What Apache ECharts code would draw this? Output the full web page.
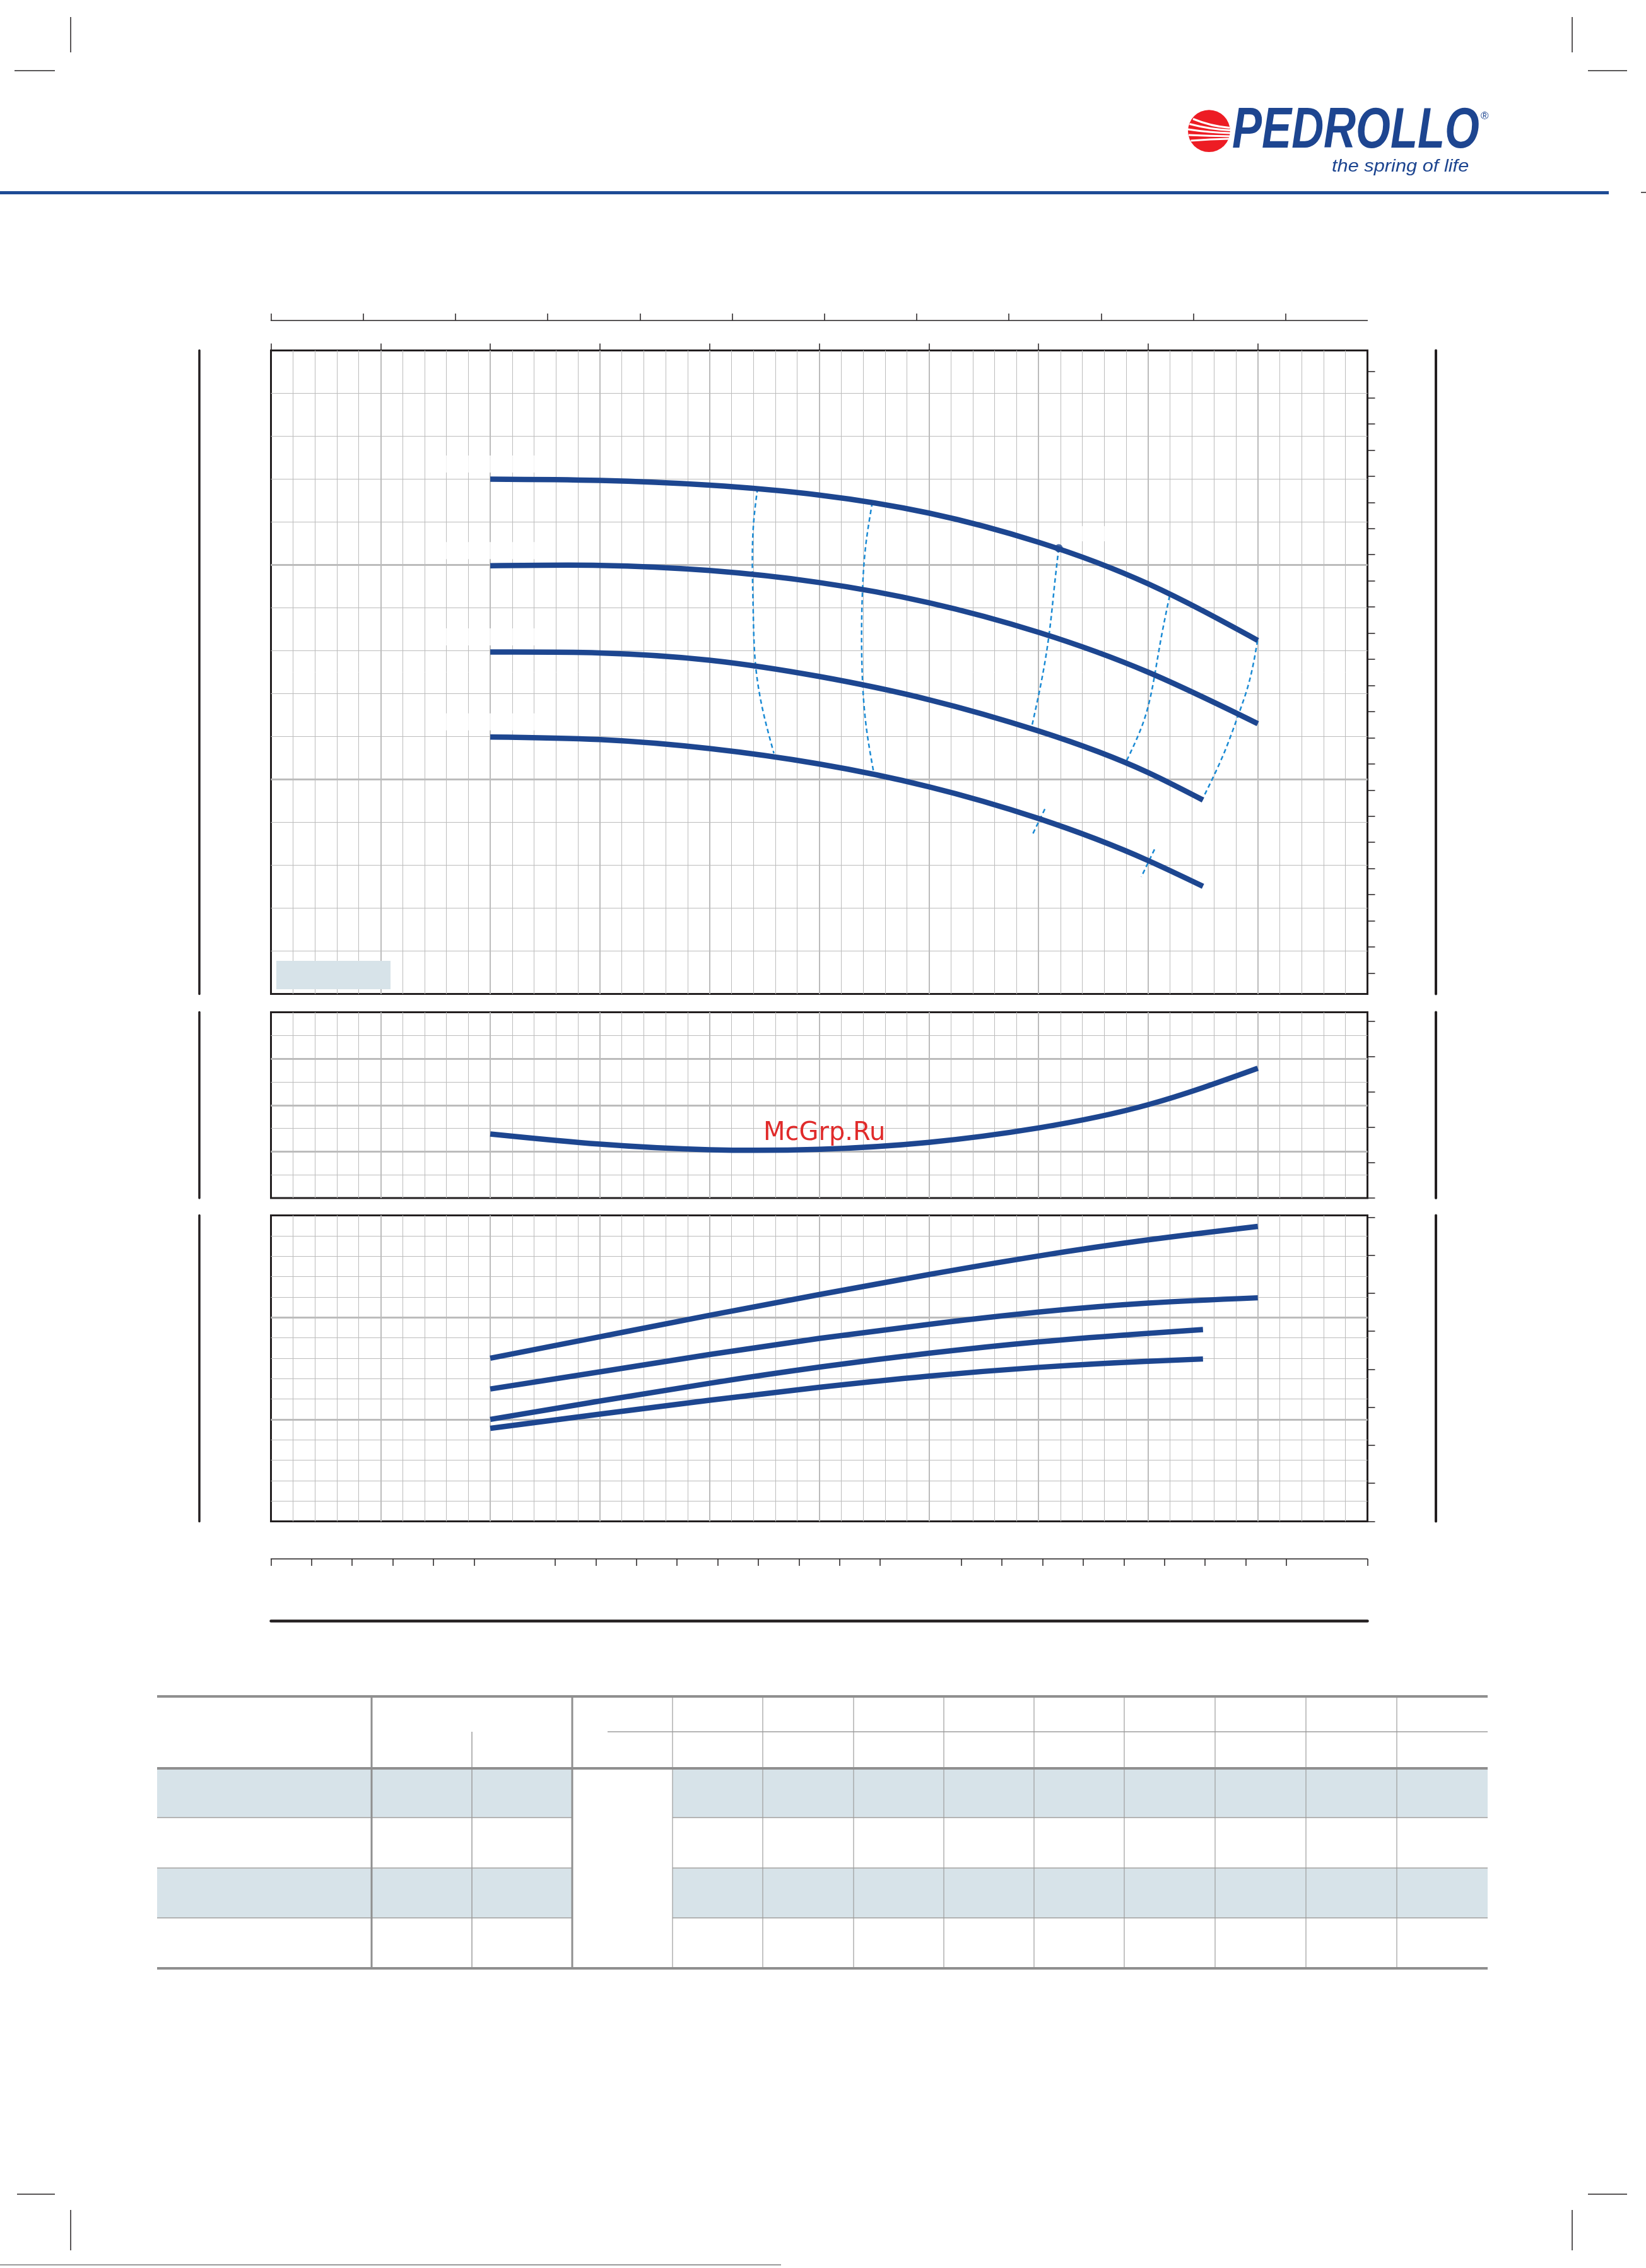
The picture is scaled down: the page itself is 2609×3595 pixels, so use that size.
<!DOCTYPE html>
<html><head><meta charset="utf-8">
<script src="https://cdn.jsdelivr.net/npm/echarts@6/dist/echarts.min.js"></script>
<style>html,body{margin:0;padding:0;background:#fff;}#c{width:2609px;height:3595px;}</style>
</head><body><div id="c"></div>
<script>
// ---------------- DATA ----------------
// Flow rate Q, l/min
const flowLong  = [90, 135, 180, 225, 270, 315, 360, 405];
const flowShort = [90, 135, 180, 225, 270, 315, 360, 382.5];
// Head H, m
const head1 = [17.00, 16.97, 16.86, 16.63, 16.21, 15.53, 14.56, 13.24];
const head2 = [14.98, 14.99, 14.87, 14.59, 14.12, 13.43, 12.50, 11.30];
const head3 = [12.97, 12.95, 12.78, 12.40, 11.86, 11.13, 10.16, 9.52];
const head4 = [10.99, 10.93, 10.72, 10.36, 9.83, 9.09, 8.11, 7.51];
// NPSH, m
const npshFlow   = [90, 135, 180, 225, 270, 315, 360, 405];
const npshValues = [2.76, 2.32, 2.08, 2.10, 2.40, 3.02, 4.02, 5.59];
// Power P, kW
const power1 = [0.800, 0.905, 1.010, 1.112, 1.210, 1.301, 1.380, 1.446];
const power2 = [0.649, 0.733, 0.818, 0.897, 0.966, 1.026, 1.070, 1.096];
const power3 = [0.500, 0.590, 0.677, 0.756, 0.824, 0.880, 0.922, 0.940];
const power4 = [0.456, 0.526, 0.594, 0.657, 0.712, 0.755, 0.785, 0.796];
// Iso-efficiency lines [Q l/min, H m]
const isoA = [[199.7,16.79],[198.2,16.07],[197.6,14.81],[197.9,13.97],[198.9,12.65],[201.9,11.60],[206.4,10.61]];
const isoB = [[246.8,16.46],[244.1,15.46],[242.8,14.46],[242.4,13.18],[242.8,12.25],[244.4,11.18],[247.4,10.15]];
const isoC = [[323.3,15.39],[321.7,14.60],[319.7,13.54],[316.8,12.47],[312.3,11.25]];
const isoCLow = [[317.6,9.31],[312.3,8.69]];
const isoD = [[368.8,14.28],[365.4,13.32],[363.0,12.54],[358.0,11.33],[351.1,10.43]];
const isoDLow = [[362.6,8.37],[357.2,7.73]];
const isoE = [[404.9,13.24],[401.0,12.18],[396.8,11.47],[391.1,10.61],[382.0,9.51]];
const dutyPoint = [[323.3,15.39]];
// Axis tick values
const flowMajorTicks = [0,45,90,135,180,225,270,315,360,405];
const usGpmTicks = [0,10,20,30,40,50,60,70,80,90,100,110];
const m3hTicks = [0,1,2,3,4,5,7,8,9,10,11,12,13,14,15,17,18,19,20,21,22,23,24,25,27];
const headFtTicks = [18,20,22,24,26,28,30,32,34,36,38,40,42,44,46,48,50,52,54,56,58,60,62,64];
const npshFtTicks = [0,5,10,15,20,25];
const powerHpTicks = [0,0.25,0.5,0.75,1,1.25,1.5,1.75,2];

// ---------------- CHART ----------------
const M_TO_FT = 3.28084, KW_TO_HP = 1/0.7457, LMIN_TO_GPM = 1/3.78541, LMIN_TO_M3H = 0.06;
const Q_MAX = 450;
const ink = '#231f20', gridGray = '#bcbcbc', blue = '#1d4690', iso = '#1a8ad4';

const grids = [
  {left:429.5, top:555.5, width:1738, height:1020},
  {left:429.5, top:1604.5, width:1738, height:294.5},
  {left:429.5, top:1926.5, width:1738, height:485}
].map(g => Object.assign(g, {show:true, borderColor:ink, borderWidth:3, backgroundColor:'#fff', containLabel:false}));

const noLine = () => ({show:false, onZero:false});
const inkLine = w => ({show:true, onZero:false, lineStyle:{color:ink, width:w}});
const base = () => ({axisLabel:{show:false}, splitLine:{show:false}, axisTick:{show:false}, axisLine:noLine()});

function dataX(gi){
  return {type:'value', gridIndex:gi, min:0, max:Q_MAX, interval:45,
    axisLine:noLine(), axisTick:{show:false}, axisLabel:{show:false},
    splitLine:{show:true, showMinLine:false, showMaxLine:false, lineStyle:{color:gridGray, width:2}},
    minorTick:{show:false, splitNumber:5},
    minorSplitLine:{show:true, lineStyle:{color:gridGray, width:1}}};
}
function dataY(gi, min, max, interval, minorN){
  return {type:'value', gridIndex:gi, position:'left', min, max, interval,
    axisLine:noLine(), axisTick:{show:false}, axisLabel:{show:false},
    splitLine:{show:true, showMinLine:false, showMaxLine:false, lineStyle:{color:gridGray, width:3}},
    minorTick:{show:false, splitNumber:minorN},
    minorSplitLine:{show:true, lineStyle:{color:gridGray, width:1}}};
}
function tickAxisY(gi, min, max, ticks){
  return Object.assign(base(), {type:'value', gridIndex:gi, position:'right', offset:0, min, max,
    axisTick:{show:true, customValues:ticks, length:12, lineStyle:{color:ink, width:1.5}}});
}
function barAxisY(gi, pos, offset, w){
  return Object.assign(base(), {type:'value', gridIndex:gi, position:pos, offset, min:0, max:1, axisLine:inkLine(w)});
}

const xAxes = [
  dataX(0),                                                        // 0 main
  Object.assign(base(), {type:'value', gridIndex:0, position:'top', offset:0, min:0, max:Q_MAX,
    axisTick:{show:true, customValues:flowMajorTicks, length:11, lineStyle:{color:ink, width:1.5}}}), // 1
  Object.assign(base(), {type:'value', gridIndex:0, position:'top', offset:47.5, min:0, max:Q_MAX*LMIN_TO_GPM,
    axisLine:inkLine(1.5),
    axisTick:{show:true, customValues:usGpmTicks, length:11, lineStyle:{color:ink, width:1.5}}}), // 2
  dataX(1),                                                        // 3 npsh
  dataX(2),                                                        // 4 power
  Object.assign(base(), {type:'value', gridIndex:2, position:'bottom', offset:59.5, min:0, max:Q_MAX*LMIN_TO_M3H,
    axisLine:inkLine(1.5),
    axisTick:{show:true, customValues:m3hTicks, length:11, lineStyle:{color:ink, width:1.5}}}), // 5
  Object.assign(base(), {type:'value', gridIndex:2, position:'bottom', offset:157.5, min:0, max:1,
    axisLine:inkLine(4.5)})                                        // 6
];
const yAxes = [
  dataY(0, 5, 20, 5, 5),                                           // 0
  tickAxisY(0, 5*M_TO_FT, 20*M_TO_FT, headFtTicks),                 // 1
  barAxisY(0, 'left', 113.5, 3.5),                                 // 2
  barAxisY(0, 'right', 108.5, 4),                                  // 3
  dataY(1, 0, 8, 2, 2),                                            // 4
  tickAxisY(1, 0, 8*M_TO_FT, npshFtTicks),                         // 5
  barAxisY(1, 'left', 113.5, 3.5),                                 // 6
  barAxisY(1, 'right', 108.5, 4),                                  // 7
  dataY(2, 0, 1.5, 0.5, 5),                                        // 8
  tickAxisY(2, 0, 1.5*KW_TO_HP, powerHpTicks),                     // 9
  barAxisY(2, 'left', 113.5, 3.5),                                 // 10
  barAxisY(2, 'right', 108.5, 4)                                   // 11
];

// Smooth (natural cubic spline) path through the pixel positions of the data points.
function splinePath(pts, byY){
  const P = byY ? pts.map(p => [p[1], p[0]]) : pts;
  const n = P.length, xs = P.map(p => p[0]), ys = P.map(p => p[1]);
  const h = [], M = new Array(n).fill(0);
  for (let i = 0; i < n - 1; i++) h.push(xs[i + 1] - xs[i]);
  if (n > 2) {
    const a = [], b = [], c = [], d = [];
    for (let i = 1; i < n - 1; i++) {
      a.push(h[i - 1]); b.push(2 * (h[i - 1] + h[i])); c.push(h[i]);
      d.push(6 * ((ys[i + 1] - ys[i]) / h[i] - (ys[i] - ys[i - 1]) / h[i - 1]));
    }
    const m = b.length;
    for (let i = 1; i < m; i++) { const w = a[i] / b[i - 1]; b[i] -= w * c[i - 1]; d[i] -= w * d[i - 1]; }
    const sol = new Array(m);
    sol[m - 1] = d[m - 1] / b[m - 1];
    for (let i = m - 2; i >= 0; i--) sol[i] = (d[i] - c[i] * sol[i + 1]) / b[i];
    for (let i = 0; i < m; i++) M[i + 1] = sol[i];
  }
  const out = (x, y) => byY ? (y + ',' + x) : (x + ',' + y);
  let s = 'M' + out(xs[0], ys[0]);
  for (let i = 0; i < n - 1; i++) {
    const hh = h[i], sl = (ys[i + 1] - ys[i]) / hh;
    const d0 = sl - hh * (2 * M[i] + M[i + 1]) / 6, d1 = sl + hh * (M[i] + 2 * M[i + 1]) / 6;
    s += ' C' + out(xs[i] + hh / 3, ys[i] + d0 * hh / 3) + ' ' + out(xs[i + 1] - hh / 3, ys[i + 1] - d1 * hh / 3) + ' ' + out(xs[i + 1], ys[i + 1]);
  }
  return s;
}
function splineSeries(xi, yi, data, style, z, byY){
  return {type:'custom', xAxisIndex:xi, yAxisIndex:yi, data, silent:true, z, encode:{x:0, y:1},
    renderItem(params, api){
      if (params.dataIndex !== 0) return null;
      const pts = data.map(d => api.coord(d));
      return {type:'path', shape:{pathData:splinePath(pts, byY)}, style:Object.assign({fill:'none'}, style)};
    }};
}
const pairs = (qs, vs) => qs.map((q, i) => [q, vs[i]]);
const curveStyle = {stroke:blue, lineWidth:8.5, lineCap:'butt'};
const isoStyle = {stroke:iso, lineWidth:2.5, lineDash:[7,5]};
const curve = (xi, yi, data) => splineSeries(xi, yi, data, curveStyle, 4, false);
const isoLine = data => splineSeries(0, 0, data, isoStyle, 3, true);
const headSets = [pairs(flowLong, head1), pairs(flowLong, head2), pairs(flowShort, head3), pairs(flowShort, head4)];

const series = [
  // blank label plates (white) above the start of each head curve
  {type:'scatter', xAxisIndex:0, yAxisIndex:0, data: headSets.map(s => s[0]), symbol:'rect',
    symbolSize:[192, 27], symbolOffset:[3, -24], itemStyle:{color:'#fff'}, silent:true, z:2},
  {type:'scatter', xAxisIndex:0, yAxisIndex:0, data: dutyPoint, symbol:'rect',
    symbolSize:[42, 24], symbolOffset:[53, -23], itemStyle:{color:'#fff'}, silent:true, z:2},
  isoLine(isoA), isoLine(isoB), isoLine(isoC), isoLine(isoCLow), isoLine(isoD), isoLine(isoDLow), isoLine(isoE),
  ...headSets.map(d => curve(0, 0, d)),
  {type:'scatter', xAxisIndex:0, yAxisIndex:0, data: dutyPoint, symbol:'circle', symbolSize:13,
    itemStyle:{color:blue}, silent:true, z:5},
  curve(3, 4, pairs(npshFlow, npshValues)),
  curve(4, 8, pairs(flowLong, power1)),
  curve(4, 8, pairs(flowLong, power2)),
  curve(4, 8, pairs(flowShort, power3)),
  curve(4, 8, pairs(flowShort, power4))
];

// ---------------- PAGE DECORATION ----------------
const g = [];
const ln = (x1,y1,x2,y2,stroke,w,z) => g.push({type:'line', shape:{x1,y1,x2,y2}, style:{stroke, lineWidth:w}, z:z||1, silent:true});
const rc = (x,y,w,h,fill,z) => g.push({type:'rect', shape:{x,y,width:w,height:h}, style:{fill}, z:z||1, silent:true});
const tx = (x,y,text,st,z,extra) => g.push(Object.assign({type:'text', x, y, z:z||6, silent:true,
  style:Object.assign({text, textAlign:'left', align:'left', textVerticalAlign:'middle', verticalAlign:'middle'}, st)}, extra||{}));

// crop marks
[[112,27,112,83],[23,112,87,112],[2492,27,2492,83],[2517,112,2579,112],
 [27,3478,87,3478],[112,3503,112,3567],[2517,3478,2579,3478],[2492,3503,2492,3567]]
  .forEach(s => ln(s[0],s[1],s[2],s[3],ink,1.5));
ln(0,3590,1238,3590,'#9a9a9a',2);
// header rule
rc(0,303,2550,5,'#1e4b95');
ln(2601,305,2609,305,ink,1.5);
// logo
g.push({type:'circle', shape:{cx:1916.4, cy:207.7, r:33.4}, style:{fill:'#ed1c24'}, z:5, silent:true});
[[1891,188.5,1949,202.5],[1885.5,196.5,1950,206.5],[1883,205,1950,211],[1884,214,1950,216],[1887.5,223,1949,220]]
  .forEach(s => g.push({type:'bezierCurve', shape:{x1:s[0],y1:s[1],x2:s[2],y2:s[3],cpx1:(s[0]+s[2])/2,cpy1:s[1]+(s[3]-s[1])*0.85},
    style:{stroke:'#fff', lineWidth:3.2, fill:null}, z:6, silent:true}));
tx(1953, 209, 'PEDROLLO', {fontSize:90, fontWeight:'bold', fontStyle:'italic', fontFamily:'Liberation Sans', fill:'#1d4590'}, 6, {scaleX:0.784});
tx(2347, 184, '®', {fontSize:17, fontFamily:'Liberation Sans', fill:'#1d4590'}, 6);
tx(2111, 264, 'the spring of life', {fontSize:27, fontStyle:'italic', fontFamily:'Liberation Sans', fill:'#1d4590'}, 6, {scaleX:1.14});
// legend plate in main chart
rc(438,1523,181,45,'#d7e3e9',3);
// watermark
tx(1210, 1797, 'McGrp.Ru', {fontSize:40, fontFamily:'DejaVu Sans', fill:'#e02b2b'}, 20);

// table
const tblL = 249, tblR = 2358, mergeL = 907, mergeR = 1066;
const tblThick = '#8f8f8f', tblThin = '#9c9c9c';
rc(tblL,2805,mergeL-tblL,75,'#d7e3e9',1); rc(mergeR,2805,tblR-mergeR,75,'#d7e3e9',1);
rc(tblL,2962,mergeL-tblL,77.5,'#d7e3e9',1); rc(mergeR,2962,tblR-mergeR,77.5,'#d7e3e9',1);
[2881,2961,3040].forEach(y => { ln(tblL,y,mergeL,y,tblThin,1.5,2); ln(mergeR,y,tblR,y,tblThin,1.5,2); });
ln(963,2745,tblR,2745,tblThin,1.5,2);
[1066,1209,1353,1496,1639,1782,1926,2070,2214].forEach(x => ln(x,2691,x,3118,tblThin,1.2,2));
ln(748,2745,748,3118,tblThin,1.5,2);
[589,907].forEach(x => ln(x,2691,x,3118,tblThick,3,2));
[2689,2803,3120].forEach(y => ln(tblL,y,tblR,y,tblThick,4,3));

const chart = echarts.init(document.getElementById('c'), null, {renderer:'canvas', width:2609, height:3595});
chart.setOption({
  animation:false,
  backgroundColor:'#fff',
  grid:grids,
  xAxis:xAxes,
  yAxis:yAxes,
  series,
  graphic:{elements:g}
});
</script></body></html>
